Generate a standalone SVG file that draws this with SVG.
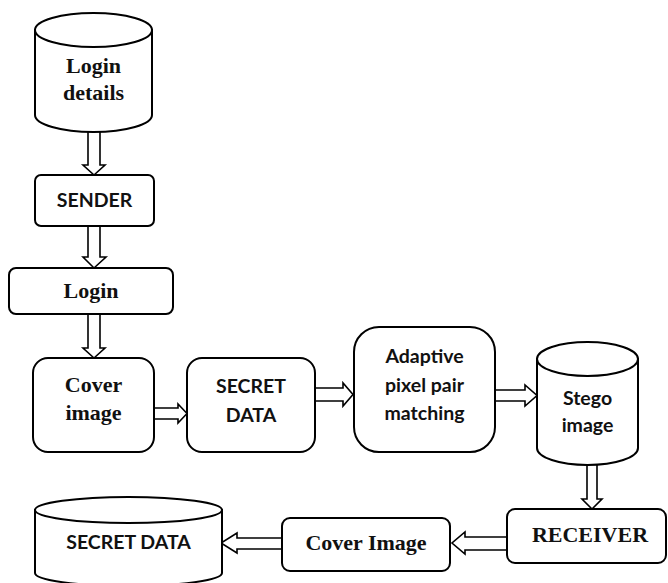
<svg xmlns="http://www.w3.org/2000/svg" width="668" height="583" viewBox="0 0 668 583">
  <style>
    .shape { fill: #fff; stroke: #000; stroke-width: 2; }
    .arrow { fill: #fff; stroke: #000; stroke-width: 1.6; stroke-linejoin: miter; }
    .serif { font-family: "Liberation Serif", "Times New Roman", serif; font-weight: bold; font-size: 22px; fill: #111; text-anchor: middle; }
    .sans { font-family: Lato, "Liberation Sans", sans-serif; font-weight: bold; font-size: 19.5px; fill: #111; text-anchor: middle; }
  </style>
  <rect width="668" height="583" fill="#fff"/>

  <!-- block arrows between the steps -->
  <g id="connectors">
    <polygon class="arrow" points="88,128 100,128 100,165 105,165 94,175 83,165 88,165"/>
    <polygon class="arrow" points="88,226 100,226 100,257 106,257 94,268 83,257 88,257"/>
    <polygon class="arrow" points="88,314 100,314 100,348 105,348 94,358 83,348 88,348"/>
    <polygon class="arrow" points="154,408 178,408 178,404 187,413.5 178,423 178,419 154,419"/>
    <polygon class="arrow" points="315,388 343,388 343,383 353,394.5 343,406 343,401 315,401"/>
    <polygon class="arrow" points="495,390 525,390 525,385 537,395.5 525,406 525,401 495,401"/>
    <polygon class="arrow" points="587,458 597,458 597,499 602,499 592,509 582,499 587,499"/>
    <polygon class="arrow" points="507,537 465,537 465,532 452,543 465,554 465,550 507,550"/>
    <polygon class="arrow" points="282,538 237,538 237,533 221,543 237,553 237,549 282,549"/>
  </g>

  <g id="login-details">
    <path class="shape" d="M35,30 L35,115 A58.5,17 0 0 0 152,115 L152,30 Z"/>
    <ellipse class="shape" cx="93.5" cy="30" rx="58.5" ry="17"/>
    <text class="serif" x="93.5" y="73">Login</text>
    <text class="serif" x="93.5" y="100">details</text>
  </g>

  <g id="sender">
    <rect class="shape" x="35" y="175" width="119" height="51" rx="6"/>
    <text class="sans" x="94.5" y="207">SENDER</text>
  </g>

  <g id="login">
    <rect class="shape" x="9" y="268" width="164" height="46" rx="7"/>
    <text class="serif" x="91" y="298">Login</text>
  </g>

  <g id="cover-image">
    <rect class="shape" x="33" y="358" width="121" height="94" rx="15"/>
    <text class="serif" x="93.5" y="392">Cover</text>
    <text class="serif" x="93.5" y="420">image</text>
  </g>

  <g id="secret-data">
    <rect class="shape" x="187" y="358" width="128" height="94" rx="15"/>
    <text class="sans" x="251" y="393">SECRET</text>
    <text class="sans" x="251" y="422">DATA</text>
  </g>

  <g id="adaptive-ppm">
    <rect class="shape" x="354" y="327" width="141" height="125" rx="25"/>
    <text class="sans" x="424.5" y="363">Adaptive</text>
    <text class="sans" x="424.5" y="392">pixel pair</text>
    <text class="sans" x="424.5" y="420">matching</text>
  </g>

  <g id="stego-image">
    <path class="shape" d="M537,359 L537,448 A50.5,17 0 0 0 638,448 L638,359 Z"/>
    <ellipse class="shape" cx="587.5" cy="359" rx="50.5" ry="17"/>
    <text class="sans" x="587.5" y="405">Stego</text>
    <text class="sans" x="587.5" y="432">image</text>
  </g>

  <g id="receiver">
    <rect class="shape" x="507" y="509" width="159" height="54" rx="8"/>
    <text class="serif" x="590" y="542">RECEIVER</text>
  </g>

  <g id="cover-image-out">
    <rect class="shape" x="282" y="518" width="168" height="53" rx="8"/>
    <text class="serif" x="366" y="550">Cover Image</text>
  </g>

  <g id="secret-data-out">
    <path class="shape" d="M35,510 L35,573 A93.5,13 0 0 0 222,573 L222,510 Z"/>
    <ellipse class="shape" cx="128.5" cy="510" rx="93.5" ry="13"/>
    <text class="sans" x="128.5" y="549">SECRET DATA</text>
  </g>
</svg>
